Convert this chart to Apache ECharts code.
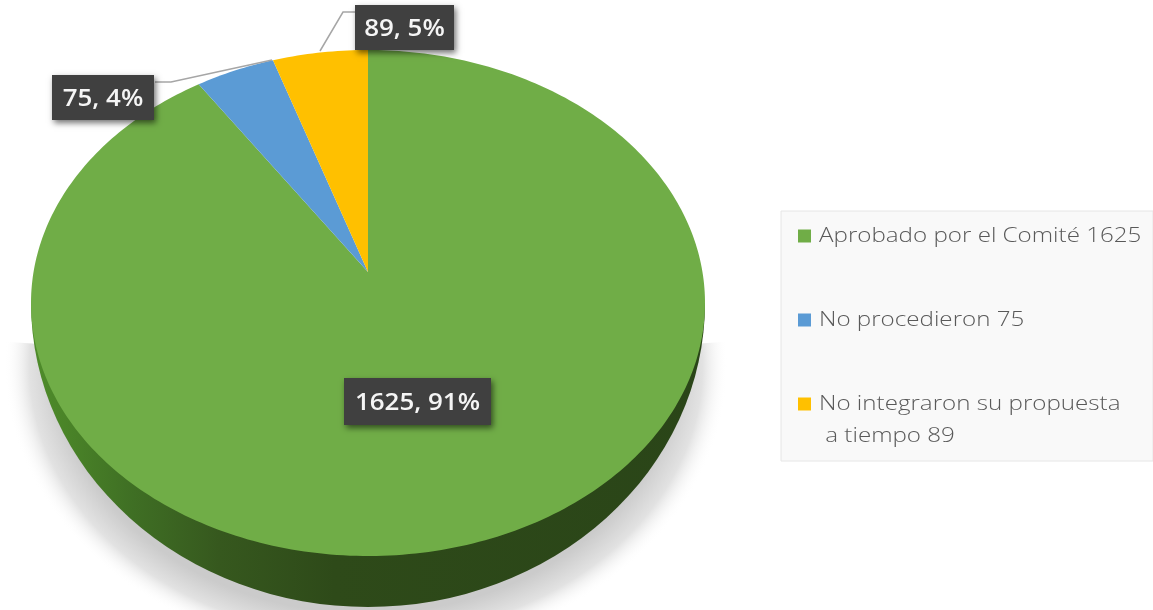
<!DOCTYPE html>
<html><head><meta charset="utf-8">
<style>html,body{margin:0;padding:0;background:#fff}#c{width:1153px;height:610px}</style>
<script src="https://cdn.jsdelivr.net/npm/echarts@6/dist/echarts.min.js"></script>
</head><body><div id="c"></div>
<script>
const categories = ['Aprobado por el Comité', 'No procedieron', 'No integraron su propuesta'];
const values = [1625, 75, 89];
const colors = ['#70ad47', '#5b9bd5', '#ffc000'];
const legendLines = [['Aprobado por el Comité 1625'], ['No procedieron 75'], ['No integraron su propuesta', ' a tiempo 89']];

const CX = 368, CY = 303, RX = 337, RY = 253, APEX_Y = 272, K = 0.72, SIDE_RY = 304;
const labelBoxes = [
  {x: 344, y: 378, w: 147, h: 47},
  {x: 52, y: 75, w: 102, h: 45, line: [[155, 82], [171, 82], [272, 60]]},
  {x: 355, y: 5, w: 99, h: 45, line: [[320, 51], [343, 12], [355, 12]]}
];
const legendRows = [236, 320, 404];
const total = values.reduce((a, b) => a + b, 0);

// Ray from the apex, at pie angle a (clockwise from north), to the rim of the tilted ellipse
function rim(a) {
  const dx = Math.sin(a), dy = -Math.cos(a) * K;
  const py = APEX_Y - CY;
  const A = dx * dx / (RX * RX) + dy * dy / (RY * RY);
  const B = 2 * py * dy / (RY * RY);
  const C = py * py / (RY * RY) - 1;
  const t = (-B + Math.sqrt(B * B - 4 * A * C)) / (2 * A);
  return [CX + dx * t, APEX_Y + dy * t];
}
function sliceStart(i) {
  let s = 0;
  for (let j = 0; j < i; j++) s += values[j];
  return s / total * Math.PI * 2;
}
const font = '"Open Sans", sans-serif';

function renderBase() {
  return {type: 'group', children: [
    {type: 'sector', x: 366, y: 365, scaleY: 292 / 362,
      shape: {cx: 0, cy: 0, r: 362, r0: 0, startAngle: -0.08, endAngle: Math.PI + 0.08},
      style: {fill: {type: 'radial', global: true, x: 0, y: 0, r: 362,
        colorStops: [{offset: 0, color: '#c8c8c8'}, {offset: 0.85, color: '#cbcbcb'}, {offset: 0.93, color: '#e2e2e2'}, {offset: 1, color: 'rgba(255,255,255,0)'}]}}},
    {type: 'sector', x: CX, y: CY, scaleY: SIDE_RY / RX,
      shape: {cx: 0, cy: 0, r: RX, r0: 0, startAngle: 0, endAngle: Math.PI},
      style: {fill: {type: 'linear', global: true, x: -RX, y: 0, x2: RX, y2: 0, colorStops: [
        {offset: 0, color: '#4f8c2b'}, {offset: 0.05, color: '#4a8428'}, {offset: 0.15, color: '#3f6f24'},
        {offset: 0.28, color: '#36581e'}, {offset: 0.45, color: '#2e4a19'}, {offset: 1, color: '#2a4518'}]}}}
  ]};
}

function renderItem(params, api) {
  const i = params.dataIndex;
  const start = sliceStart(i), end = start + api.value(0) / total * Math.PI * 2;
  const pts = [[CX, APEX_Y]];
  const n = Math.max(8, Math.round((end - start) * 60));
  for (let k = 0; k <= n; k++) pts.push(rim(start + (end - start) * k / n));
  const children = [{type: 'polygon', shape: {points: pts}, style: {fill: colors[i]}}];

  const b = labelBoxes[i];
  const pct = Math.round(api.value(0) / total * 100);
  if (b.line) children.push({type: 'polyline', shape: {points: b.line}, style: {stroke: '#a6a6a6', lineWidth: 1.5, fill: null}});
  children.push({type: 'rect', shape: {x: b.x, y: b.y, width: b.w, height: b.h},
    style: {fill: '#404040', shadowBlur: 6, shadowColor: 'rgba(0,0,0,0.55)', shadowOffsetX: 2, shadowOffsetY: 3}});
  children.push({type: 'text', x: b.x + b.w / 2, y: b.y + b.h / 2 + 2, scaleX: 1.08,
    style: {text: api.value(0) + ', ' + pct + '%', fill: '#f5f5f5', font: '600 24px ' + font, align: 'center', verticalAlign: 'middle'}});

  const ly = legendRows[i];
  children.push({type: 'rect', shape: {x: 798, y: ly - 6.5, width: 13, height: 13}, style: {fill: colors[i]}});
  legendLines[i].forEach((t, j) => children.push({type: 'text', x: 819, y: ly + j * 32, scaleX: 1.15,
    style: {text: t, fill: '#595959', font: '300 21px ' + font, align: 'left', verticalAlign: 'middle'}}));
  return {type: 'group', children};
}

const chart = echarts.init(document.getElementById('c'), null, {renderer: 'canvas'});
chart.setOption({
  animation: false,
  backgroundColor: '#ffffff',
  graphic: [{type: 'rect', z: 0, shape: {x: 781, y: 211, width: 372, height: 250},
    style: {fill: '#f9f9f9', stroke: '#e6e6e6', lineWidth: 1}}],
  series: [
    {type: 'custom', coordinateSystem: 'none', silent: true, z: 1, data: [0], renderItem: renderBase},
    {type: 'custom', coordinateSystem: 'none', silent: true, z: 2,
      data: values.map((v, i) => ({name: categories[i], value: [v]})), renderItem}
  ]
});
</script></body></html>
